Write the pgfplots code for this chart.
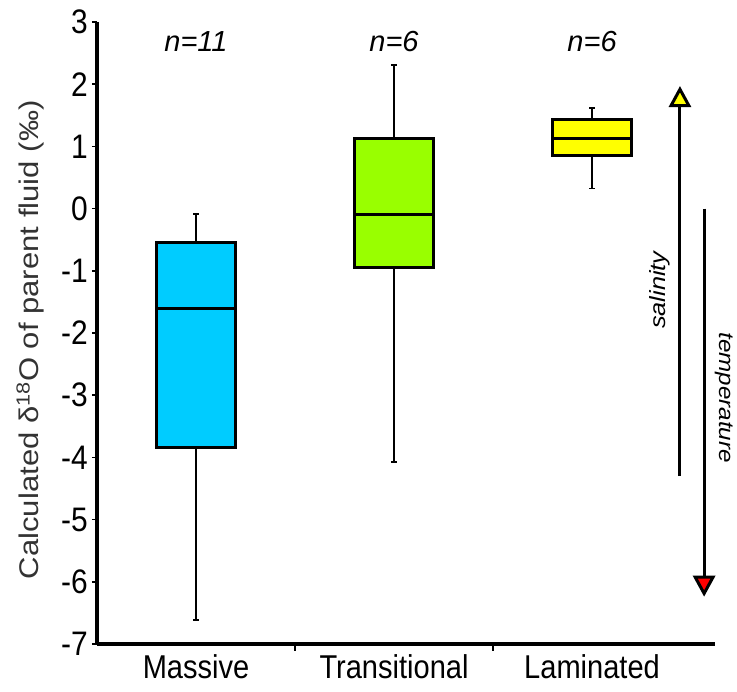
\documentclass[border=0pt]{standalone}
\usepackage{fontspec}
\setmainfont{Liberation Sans}[FakeStretch=0.88]
\newfontfamily\labfont{Liberation Sans}[FakeStretch=1.15]
\newfontfamily\nfont{Liberation Sans}
\usepackage{pgfplots}
\pgfplotsset{compat=1.18}
\usepgfplotslibrary{statistics}
\usetikzlibrary{arrows.meta}
\definecolor{boxcyan}{HTML}{00CCFF}
\definecolor{boxgreen}{HTML}{99FF00}
\definecolor{boxyellow}{HTML}{FFFF00}
\definecolor{arrred}{HTML}{FF0000}

\begin{document}
\begin{tikzpicture}
\begin{axis}[
  at={(0,0)}, anchor=south west,
  scale only axis, width=618pt, height=622pt,
  xmin=-0.5, xmax=2.621, ymin=-7, ymax=3,
  clip=false,
  axis lines*=left,
  axis line style={line width=3.2pt},
  tick align=outside,
  major tick length=5pt,
  minor tick length=7pt,
  ytick={-7,-6,-5,-4,-3,-2,-1,0,1,2,3},
  yticklabels={-7,-6,-5,-4,-3,-2,-1,0,1,2,3},
  ytick style={line width=1.5pt, black},
  xtick={0,1,2},
  xticklabels={Massive,Transitional,Laminated},
  minor xtick={0.5,1.5},
  major x tick style={draw=none},
  minor x tick style={line width=1.5pt, black},
  yticklabel style={font=\fontsize{34}{36}\selectfont, inner sep=0pt, xshift=-4pt},
  xticklabel style={font=\fontsize{33}{36}\selectfont, inner sep=0pt, yshift=-5pt},
  ylabel={\labfont Calculated δ\textsuperscript{18}O of parent fluid (‰)},
  ylabel style={font=\fontsize{27}{30}\selectfont, text=black!80, at={(axis description cs:-0.108,0.489)}, anchor=center},
  boxplot/draw direction=y,
]
\addplot[boxplot prepared={draw position=0, lower whisker=-6.61, lower quartile=-3.84,
  median=-1.6, upper quartile=-0.55, upper whisker=-0.09, box extend=0.4, whisker extend=0.03},
  fill=boxcyan, draw=black, line width=3pt,
  boxplot/every median/.style={line width=3.2pt},
  boxplot/every whisker/.style={line width=1.6pt}] coordinates {};
\addplot[boxplot prepared={draw position=1, lower whisker=-4.07, lower quartile=-0.95,
  median=-0.09, upper quartile=1.13, upper whisker=2.31, box extend=0.4, whisker extend=0.03},
  fill=boxgreen, draw=black, line width=3pt,
  boxplot/every median/.style={line width=3.2pt},
  boxplot/every whisker/.style={line width=1.6pt}] coordinates {};
\addplot[boxplot prepared={draw position=2, lower whisker=0.32, lower quartile=0.86,
  median=1.13, upper quartile=1.44, upper whisker=1.62, box extend=0.4, whisker extend=0.03},
  fill=boxyellow, draw=black, line width=3pt,
  boxplot/every median/.style={line width=3.2pt},
  boxplot/every whisker/.style={line width=1.6pt}] coordinates {};

\node[font=\nfont\itshape\fontsize{29}{31}\selectfont] at (axis cs:0,2.68) {n=11};
\node[font=\nfont\itshape\fontsize{29}{31}\selectfont] at (axis cs:1,2.68) {n=6};
\node[font=\nfont\itshape\fontsize{29}{31}\selectfont] at (axis cs:2,2.68) {n=6};

\draw[line width=3pt, -{Triangle[width=22pt,length=21pt,fill=boxyellow,line width=3pt]}]
  (axis cs:2.444,-4.3) -- (axis cs:2.444,1.97);
\draw[line width=3pt, -{Triangle[width=22pt,length=21pt,fill=arrred,line width=3pt]}]
  (axis cs:2.566,0) -- (axis cs:2.566,-6.24);
\node[rotate=90, font=\labfont\itshape\fontsize{22}{24}\selectfont] at (axis cs:2.343,-1.31) {salinity};
\node[rotate=-90, font=\labfont\itshape\fontsize{21}{23}\selectfont] at (axis cs:2.668,-3.04) {temperature};
\end{axis}
\pgfresetboundingbox
\path[use as bounding box] (-97pt,-48pt) rectangle (640pt,644pt);
\end{tikzpicture}
\end{document}
